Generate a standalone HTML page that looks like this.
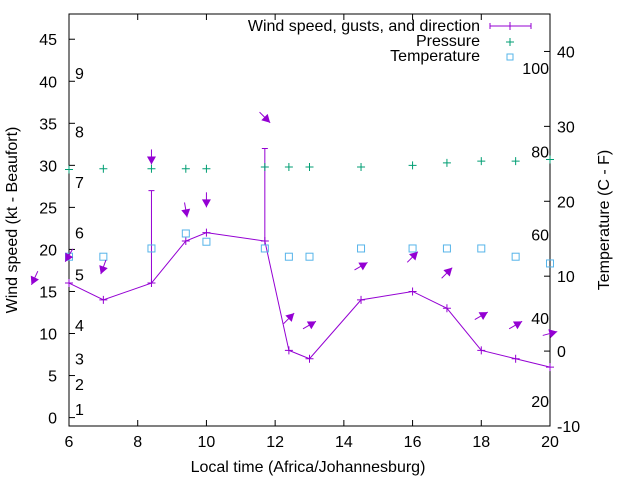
<!DOCTYPE html>
<html><head><meta charset="utf-8"><style>
html,body{margin:0;padding:0;background:#fff}
svg{display:block;font-family:"Liberation Sans",sans-serif}
</style></head><body>
<svg id="chart" width="640" height="480" viewBox="0 0 640 480">
<g id="axes"></g>
<g id="marks"></g>
<g id="legend">
<text x="480" y="31" text-anchor="end" font-size="16">Wind speed, gusts, and direction</text>
<line x1="490" y1="26" x2="531" y2="26" stroke="#9400d3" stroke-width="1"/>
<line x1="490" y1="23" x2="490" y2="29" stroke="#9400d3"/><line x1="531" y1="23" x2="531" y2="29" stroke="#9400d3"/><line x1="510" y1="22" x2="510" y2="30" stroke="#9400d3"/>
<text x="480" y="46" text-anchor="end" font-size="16">Pressure</text>
<path d="M506,42h8M510,38v8" stroke="#009e73"/>
<text x="480" y="61" text-anchor="end" font-size="16">Temperature</text>
<rect x="507" y="54" width="6" height="6" fill="none" stroke="#56b4e9"/>
</g>
</svg>
<script>
const times=[6,7,8.4,9.4,10,11.7,12.4,13,14.5,16,17,18,19,20];
const wind=[16,14,16,21,22,21,8,7,14,15,13,8,7,6];
const gustTimes=[8.4,11.7];
const gusts=[27,32];
const pressure=[29.5,29.6,29.6,29.6,29.6,29.8,29.8,29.8,29.8,30.0,30.3,30.5,30.5,30.7];
const temperature=[12.6,12.6,13.7,15.7,14.6,13.7,12.6,12.6,13.7,13.7,13.7,13.7,12.6,11.7];
const arrowTimes=[5,6,7,8.4,9.4,10,11.7,12.4,13,14.5,16,17,18,19,20];
const arrowLevel=[16.6,19.3,17.9,31,24.7,25.9,35.7,11.8,11,18,19.1,17.2,12.1,11,10];
const arrowBearing=[205,210,200,180,170,180,135,45,60,60,45,45,60,60,75];
const xTicks=[6,8,10,12,14,16,18,20];
const yTicks=[0,5,10,15,20,25,30,35,40,45];
const tTicks=[-10,0,10,20,30,40];
const fTicks=[20,40,60,80,100];
const bftLabels=[1,2,3,4,5,6,7,8,9];
const bftKnots=[1,4,7,11,17,22,28,34,41];

const X0=69,X1=550,YT=14,YB=426;
const xs=t=>X0+(t-6)/14*(X1-X0);
const ys=v=>YB-(v+1)*(YB-YT)/49;
const yt=c=>YB-(c+10)*(YB-YT)/55;
const NS='http://www.w3.org/2000/svg';
function mk(tag,attrs,parent,txt){const e=document.createElementNS(NS,tag);for(const k in attrs)e.setAttribute(k,attrs[k]);if(txt!==undefined)e.textContent=txt;parent.appendChild(e);return e;}
const axes=document.getElementById('axes'),marks=document.getElementById('marks');
let b=mk('rect',{x:X0,y:YT,width:X1-X0,height:YB-YT,fill:'none',stroke:'#000'},axes);


xTicks.forEach(t=>{const x=xs(t);
 mk('line',{x1:x,y1:YB,x2:x,y2:YB-6,stroke:'#000'},axes);mk('line',{x1:x,y1:YT,x2:x,y2:YT+6,stroke:'#000'},axes);
 const l=mk('text',{x:x,y:YB+21,'text-anchor':'middle','font-size':16},axes,String(t));
 
 });
yTicks.forEach(v=>{const y=ys(v);
 mk('line',{x1:X0,y1:y,x2:X0+6,y2:y,stroke:'#000'},axes);
 const l=mk('text',{x:X0-12,y:y+6,'text-anchor':'end','font-size':16},axes,String(v));
 
 });
tTicks.forEach(c=>{const y=yt(c);
 mk('line',{x1:X1,y1:y,x2:X1-6,y2:y,stroke:'#000'},axes);
 const l=mk('text',{x:X1+7,y:y+6,'font-size':16},axes,String(c));
 
 });
fTicks.forEach(f=>{const y=yt((f-32)*5/9);
 const l=mk('text',{x:X1-1,y:y+6,'text-anchor':'end','font-size':16},axes,String(f));
 
 });
bftLabels.forEach((n,i)=>{const y=ys(bftKnots[i]);
 const l=mk('text',{x:75,y:y+6,'font-size':16},axes,String(n));
 
 });
let t1=mk('text',{x:308,y:472,'text-anchor':'middle','font-size':16},axes,'Local time (Africa/Johannesburg)');


let t2=mk('text',{x:0,y:0,'text-anchor':'middle','font-size':16,transform:'translate(17,220) rotate(-90)'},axes,'Wind speed (kt - Beaufort)');


let t3=mk('text',{x:0,y:0,'text-anchor':'middle','font-size':16,transform:'translate(609,220) rotate(-90)'},axes,'Temperature (C - F)');



let pl=mk('polyline',{points:times.map((t,i)=>xs(t)+','+ys(wind[i])).join(' '),fill:'none',stroke:'#9400d3'},marks);


times.forEach((t,i)=>{const x=xs(t),y=ys(wind[i]);
 const p=mk('path',{d:`M${x-4},${y}h8M${x},${y-4}v8`,stroke:'#9400d3'},marks);
 
 });
gustTimes.forEach((t,i)=>{const x=xs(t);const w=wind[times.indexOf(t)];
 const p=mk('path',{d:`M${x},${ys(w)}V${ys(gusts[i])}M${x-3},${ys(gusts[i])}h6M${x-3},${ys(w)}h6`,stroke:'#9400d3'},marks);
 
 });
times.forEach((t,i)=>{const x=xs(t),y=ys(pressure[i]);
 const p=mk('path',{d:`M${x-4},${y}h8M${x},${y-4}v8`,stroke:'#009e73'},marks);
 
 });
times.forEach((t,i)=>{const x=xs(t),y=yt(temperature[i]);
 const r=mk('rect',{x:x-3.5,y:y-3.5,width:7,height:7,fill:'none',stroke:'#56b4e9'},marks);
 
 });
arrowTimes.forEach((t,i)=>{const cx=xs(t),cy=ys(arrowLevel[i]);const a=arrowBearing[i]*Math.PI/180;
 const dx=Math.sin(a),dy=-Math.cos(a),L=15;
 const x1=cx-dx*L/2,y1=cy-dy*L/2,x2=cx+dx*L/2,y2=cy+dy*L/2;
 const px=-dy,py=dx;
 const g=mk('g',{},marks);
 
 
 mk('line',{x1:x1,y1:y1,x2:x2,y2:y2,stroke:'#9400d3'},g);
 mk('polygon',{points:`${x2},${y2} ${x2-dx*8+px*4.5},${y2-dy*8+py*4.5} ${x2-dx*8-px*4.5},${y2-dy*8-py*4.5}`,fill:'#9400d3'},g);});
</script>
</body></html>
